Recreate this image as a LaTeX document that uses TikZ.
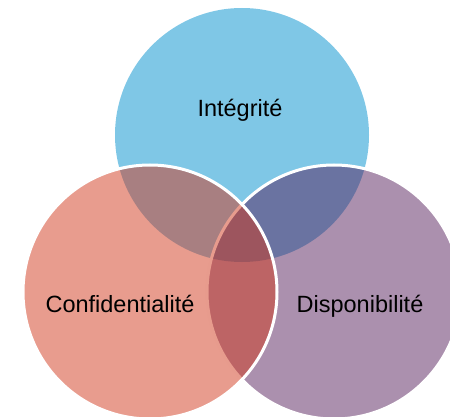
\documentclass[tikz,border=0pt]{standalone}
\usepackage{fontspec}
\setmainfont{Liberation Sans}
\definecolor{integ}{RGB}{127,199,230}
\definecolor{dispo}{RGB}{87,33,93}
\definecolor{confi}{RGB}{209,57,29}

\begin{document}
\begin{tikzpicture}[x=1pt,y=-1pt,
  venn/.style={circle,minimum size=254pt,inner sep=0pt,line width=3pt,draw=white},
  vlabel/.style={anchor=base,font=\fontsize{23.5}{28}\selectfont}]
\useasboundingbox (0,0) rectangle (450,417);
% circles: top first, then right, then left on top
\node[venn,draw=none,fill=integ] (I) at (242,135) {};
\node[venn,fill=dispo,fill opacity=0.5] (D) at (334,292) {};
\node[venn,fill=confi,fill opacity=0.5] (C) at (150,292) {};
% labels
\node[vlabel] (tI) at (240,117) {Intégrité};
\node[vlabel] (tC) at (120,312) {Confidentialité};
\node[vlabel] (tD) at (360,312) {Disponibilité};
\end{tikzpicture}
\end{document}
